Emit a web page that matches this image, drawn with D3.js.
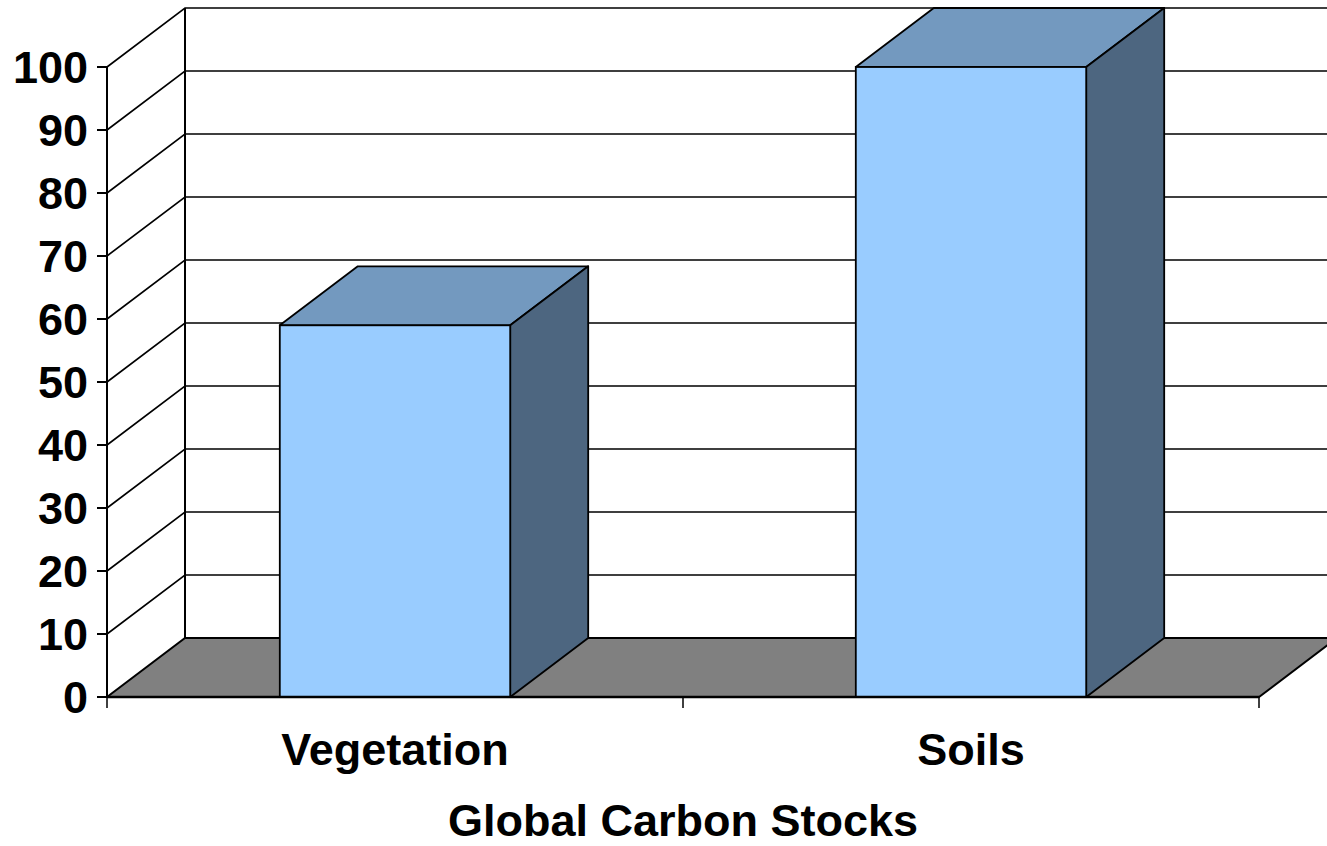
<!DOCTYPE html>
<html>
<head>
<meta charset="utf-8">
<script src="https://cdn.jsdelivr.net/npm/d3@7"></script>
<style>
  html, body { margin: 0; padding: 0; background: #fff; }
  svg { display: block; }
  text { font-family: "Liberation Sans", Arial, sans-serif; font-weight: bold; fill: #000; }
</style>
</head>
<body>
<svg id="chart" width="1327" height="846"></svg>
<script>
// Global carbon stocks (relative units)
const categories = ["Vegetation", "Soils"];
const values = [59, 100];
const yTicks = [0, 10, 20, 30, 40, 50, 60, 70, 80, 90, 100];
const axisTitle = "Global Carbon Stocks";

(function () {
  const svg = d3.select("#chart");

  // Plot frame (front plane) and 3-D depth offset
  const plotLeft = 107, plotRight = 1259, plotBottom = 697, plotTop = 67;
  const depth = { dx: 78, dy: -59 };

  const y = d3.scaleLinear().domain([0, 100]).range([plotBottom, plotTop]);
  const x = d3.scaleBand().domain(categories).range([plotLeft, plotRight])
    .paddingInner(0.6).paddingOuter(0.3);
  const step = (plotRight - plotLeft) / categories.length;

  const colors = { front: "#99CCFF", top: "#7399BF", side: "#4D6680", floor: "#808080" };
  const line = d3.line();

  // Back wall and side wall gridlines
  const grid = svg.append("g");
  yTicks.forEach(t => {
    if (t === 0) return;
    const yf = y(t), yb = y(t) + depth.dy;
    grid.append("path")
      .attr("d", line([[plotLeft, yf], [plotLeft + depth.dx, yb], [plotRight + depth.dx, yb]]))
      .attr("fill", "none").attr("stroke", "#000").attr("stroke-width", 1.6);
  });
  // back wall left edge
  grid.append("path")
    .attr("d", line([[plotLeft + depth.dx, y(0) + depth.dy], [plotLeft + depth.dx, y(100) + depth.dy]]))
    .attr("stroke", "#000").attr("stroke-width", 2);

  // Floor
  svg.append("path")
    .attr("d", line([[plotLeft, plotBottom], [plotLeft + depth.dx, plotBottom + depth.dy],
                     [plotRight + depth.dx, plotBottom + depth.dy], [plotRight, plotBottom]]) + "Z")
    .attr("fill", colors.floor).attr("stroke", "#000").attr("stroke-width", 2);

  // Bars
  const bars = svg.append("g").selectAll("g")
    .data(categories.map((c, i) => ({ c, v: values[i] })))
    .join("g");
  bars.each(function (d) {
    const g = d3.select(this);
    const x0 = x(d.c), x1 = x(d.c) + x.bandwidth();
    const y0 = y(0), y1 = y(d.v);
    const dx = depth.dx, dy = depth.dy;
    g.append("path").attr("d", line([[x0, y1], [x0 + dx, y1 + dy], [x1 + dx, y1 + dy], [x1, y1]]) + "Z")
      .attr("fill", colors.top).attr("stroke", "#000").attr("stroke-width", 1.8).attr("stroke-linejoin", "round");
    g.append("path").attr("d", line([[x1, y0], [x1, y1], [x1 + dx, y1 + dy], [x1 + dx, y0 + dy]]) + "Z")
      .attr("fill", colors.side).attr("stroke", "#000").attr("stroke-width", 1.8).attr("stroke-linejoin", "round");
    g.append("rect").attr("x", x0).attr("y", y1).attr("width", x1 - x0).attr("height", y0 - y1)
      .attr("fill", colors.front).attr("stroke", "#000").attr("stroke-width", 1.8);
  });

  // Value axis
  const yAxis = svg.append("g");
  yAxis.append("line").attr("x1", plotLeft).attr("x2", plotLeft).attr("y1", y(0)).attr("y2", y(100))
    .attr("stroke", "#000").attr("stroke-width", 2);
  yTicks.forEach(t => {
    yAxis.append("line").attr("x1", plotLeft - 10).attr("x2", plotLeft).attr("y1", y(t)).attr("y2", y(t))
      .attr("stroke", "#000").attr("stroke-width", 2);
    yAxis.append("text").attr("x", plotLeft - 19).attr("y", y(t)).attr("dy", "0.36em")
      .attr("text-anchor", "end").style("font-size", "45px").text(t);
  });

  // Category axis
  const xAxis = svg.append("g");
  xAxis.append("line").attr("x1", plotLeft).attr("x2", plotRight).attr("y1", plotBottom).attr("y2", plotBottom)
    .attr("stroke", "#000").attr("stroke-width", 2.5);
  d3.range(categories.length + 1).forEach(i => {
    const xt = plotLeft + i * step;
    xAxis.append("line").attr("x1", xt).attr("x2", xt).attr("y1", plotBottom).attr("y2", plotBottom + 11)
      .attr("stroke", "#000").attr("stroke-width", 1.5);
  });
  categories.forEach(c => {
    xAxis.append("text").attr("x", x(c) + x.bandwidth() / 2).attr("y", 765)
      .attr("text-anchor", "middle").style("font-size", "45px").text(c);
  });

  svg.append("text").attr("x", (plotLeft + plotRight) / 2).attr("y", 836)
    .attr("text-anchor", "middle").style("font-size", "45px").text(axisTitle);
})();
</script>
</body>
</html>
